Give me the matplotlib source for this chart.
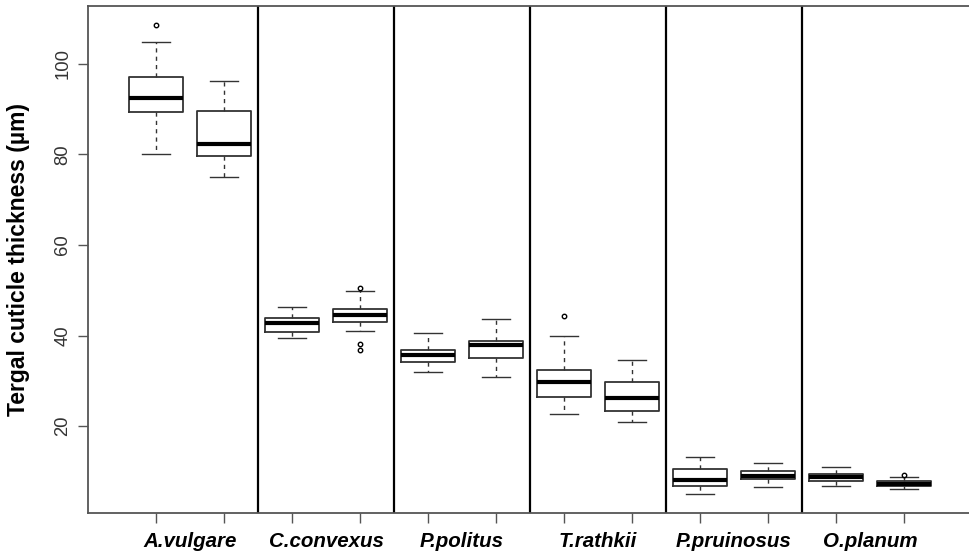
import matplotlib
matplotlib.use("Agg")
import matplotlib.pyplot as plt

species = ["A.vulgare", "C.convexus", "P.politus", "T.rathkii", "P.pruinosus", "O.planum"]

# Two boxes per species, in order left to right
whis_lo = [80.0, 75.1, 39.4, 41.1, 31.9, 30.9, 22.7, 21.0, 5.0, 6.6, 6.7, 6.1]
q1      = [89.4, 79.7, 40.8, 42.9, 34.2, 35.0, 26.5, 23.4, 6.7, 8.4, 7.8, 6.7]
median  = [92.5, 82.3, 42.8, 44.6, 35.6, 37.9, 29.8, 26.2, 8.2, 9.0, 8.7, 7.2]
q3      = [97.1, 89.7, 43.8, 45.9, 36.7, 38.9, 32.3, 29.8, 10.6, 10.1, 9.5, 7.8]
whis_hi = [104.9, 96.3, 46.4, 49.8, 40.5, 43.6, 39.9, 34.6, 13.2, 11.8, 11.0, 8.8]
fliers  = [[108.5], [], [], [50.5, 38.1, 36.9], [], [], [44.4], [], [], [], [], [9.1]]

yticks = [20, 40, 60, 80, 100]
ylabel = "Tergal cuticle thickness (\u00b5m)"

plt.rcParams['font.family'] = ['Liberation Sans', 'DejaVu Sans']

W, H = 969, 556
fig = plt.figure(figsize=(W / 100, H / 100), dpi=100)
ax = fig.add_axes([88 / W, 43 / H, 884 / W, 507 / H])

stats = []
for i in range(len(median)):
    stats.append(dict(med=median[i], q1=q1[i], q3=q3[i],
                      whislo=whis_lo[i], whishi=whis_hi[i], fliers=fliers[i]))

positions = list(range(1, len(median) + 1))
boxc = "#333333"
ax.bxp(stats, positions=positions, widths=0.8, capwidths=0.4,
       showfliers=True, manage_ticks=False,
       boxprops=dict(color=boxc, linewidth=1.3),
       medianprops=dict(color="black", linewidth=3.0, solid_capstyle="butt"),
       whiskerprops=dict(color=boxc, linewidth=1.0, linestyle=(0, (3, 3))),
       capprops=dict(color=boxc, linewidth=1.0),
       flierprops=dict(marker="o", markersize=3.2, markerfacecolor="none",
                       markeredgecolor="black", markeredgewidth=1.0))

# separators between species
for k in range(1, len(species)):
    ax.axvline(2 * k + 0.5, color="black", linewidth=1.6)

ax.set_xlim(0, 13)
ax.set_ylim(0.8, 112.8)

frame_c = "#555555"
for s in ["left", "bottom", "top", "right"]:
    ax.spines[s].set_color(frame_c)
    ax.spines[s].set_linewidth(1.3)

ax.set_xticks(positions)
ax.set_xticklabels([])
ax.tick_params(axis="x", which="major", length=7, width=1.0, color=frame_c)

ax.set_xticks([2 * k + 1.5 for k in range(len(species))], minor=True)
ax.set_xticklabels(species, minor=True, fontsize=14.8, fontweight="bold",
                   fontstyle="italic")
ax.tick_params(axis="x", which="minor", length=0, pad=13.5)

ax.set_yticks(yticks)
ax.set_yticklabels([str(v) for v in yticks], rotation=90, va="center",
                   fontsize=13.3, color="#333333")
ax.tick_params(axis="y", length=7, width=1.0, color=frame_c, pad=5)

ax.set_ylabel(ylabel, fontsize=16.5, fontweight="bold")
ax.yaxis.set_label_coords(-0.0655, 0.5)

fig.savefig("out.png", dpi=100)
